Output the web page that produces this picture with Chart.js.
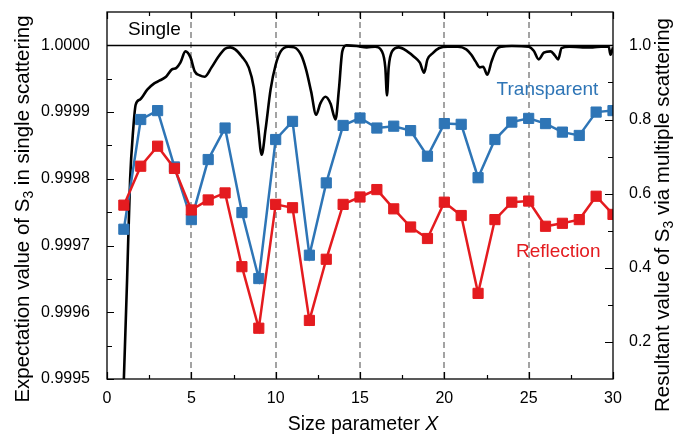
<!DOCTYPE html>
<html>
<head>
<meta charset="utf-8">
<script src="https://cdn.jsdelivr.net/npm/chart.js@4.4.1/dist/chart.umd.min.js"></script>
<style>
  html, body { margin: 0; padding: 0; background: #fff; }
</style>
</head>
<body>
<canvas id="Canvas" width="673" height="437"></canvas>
<script>
// size parameter for the multiple-scattering runs
const sizeParam = [1, 2, 3, 4, 5, 6, 7, 8, 9, 10, 11, 12, 13, 14, 15,
  16, 17, 18, 19, 20, 21, 22, 23, 24, 25, 26, 27, 28, 29, 30];

// resultant S3 (right axis)
const transparent = [0.504, 0.800, 0.824, 0.672, 0.530, 0.692, 0.777, 0.549, 0.371, 0.746,
  0.795, 0.434, 0.629, 0.784, 0.804, 0.777, 0.782, 0.770, 0.701, 0.789,
  0.787, 0.643, 0.746, 0.793, 0.803, 0.789, 0.766, 0.757, 0.820, 0.824];
const reflection = [0.569, 0.674, 0.728, 0.668, 0.556, 0.583, 0.602, 0.403, 0.237, 0.571,
  0.562, 0.258, 0.423, 0.571, 0.591, 0.611, 0.559, 0.510, 0.479, 0.577,
  0.541, 0.331, 0.530, 0.577, 0.580, 0.512, 0.520, 0.530, 0.593, 0.544];

// expectation value of S3, single scattering (left axis)
const singleX = [1.00, 1.19, 1.37, 1.55, 1.70, 1.96, 2.4, 2.8, 3.1, 3.5,
  3.85, 4.1, 4.35, 4.65, 4.95, 5.2, 5.5, 5.8, 6.2, 6.6,
  7.0, 7.3, 7.6, 8.0, 8.4, 8.7, 8.95, 9.17, 9.4, 9.7,
  10.0, 10.3, 10.75, 11.1, 11.5, 11.8, 12.1, 12.4, 12.65, 12.95,
  13.25, 13.55, 13.75, 13.95, 14.2, 14.8, 15.4, 15.9, 16.3, 16.5,
  16.6, 16.7, 16.9, 17.3, 17.8, 18.2, 18.55, 18.8, 19.0, 19.3,
  19.7, 20.2, 20.8, 21.3, 21.6, 21.85, 22.1, 22.3, 22.55, 22.8,
  23.1, 23.4, 24.0, 25.0, 25.3, 25.6, 25.9, 26.3, 26.55, 26.75,
  26.95, 27.4, 28.2, 28.8, 29.3, 29.75, 29.85, 30.0];
const singleY = [0.99950, 0.999648, 0.999799, 0.999873, 0.999911, 0.999919, 0.999934, 0.999943, 0.999947, 0.999953,
  0.999964, 0.999966, 0.999974, 0.999991, 0.999982, 0.999961, 0.999955, 0.999953, 0.999967, 0.999983,
  0.999995, 0.999997, 0.999994, 0.999983, 0.999967, 0.999937, 0.999881, 0.999836, 0.999874, 0.999934,
  0.999971, 0.999991, 0.999998, 0.999997, 0.999986, 0.999964, 0.999931, 0.999896, 0.999913, 0.999923,
  0.999913, 0.999889, 0.999934, 0.999991, 1.000000, 0.999999, 0.999997, 0.999998, 0.999991, 0.999967,
  0.999925, 0.999967, 0.999991, 0.999997, 0.999991, 0.999983, 0.999974, 0.999959, 0.999979, 0.999988,
  0.999996, 0.999998, 0.999998, 0.999994, 0.999986, 0.999976, 0.999967, 0.999968, 0.999956, 0.999976,
  0.999994, 0.999998, 0.999999, 0.999998, 0.999992, 0.999979, 0.999989, 0.999991, 0.999985, 0.999979,
  0.999996, 0.999998, 0.999997, 0.999997, 0.999998, 0.999998, 0.999986, 0.999997];

const xTicks = [0, 5, 10, 15, 20, 25, 30];
const leftTicks = [0.9995, 0.9996, 0.9997, 0.9998, 0.9999, 1.0000];
const rightTicks = [0.2, 0.4, 0.6, 0.8, 1.0];
const guideX = [5, 10, 15, 20, 25];

const BLUE = "#2e75b6";
const RED = "#e41b1f";
const FONT = "'Liberation Sans', Arial, sans-serif";

Chart.defaults.font.family = FONT;
Chart.defaults.color = "#000";

function pairs(xs, ys) {
  return xs.map((x, i) => ({ x: x, y: ys[i] }));
}

// fixed box sizes so the plot frame lands where it should
function fixBox(size) {
  return s => {
    if (s.isHorizontal()) s.height = size; else s.width = size;
    s.paddingTop = 0; s.paddingBottom = 0;
    s.paddingLeft = 0; s.paddingRight = 0;
  };
}

// text with a subscript part, optionally rotated
function drawRichText(ctx, parts, cx, cy, size, rot) {
  ctx.save();
  ctx.translate(cx, cy);
  ctx.rotate(rot);
  ctx.textBaseline = "middle";
  ctx.textAlign = "left";
  let total = 0;
  parts.forEach(p => {
    ctx.font = (p.italic ? "italic " : "") + (p.sub ? size * 0.68 : size) + "px " + FONT;
    p.w = ctx.measureText(p.t).width;
    total += p.w;
  });
  let x = -total / 2;
  parts.forEach(p => {
    ctx.font = (p.italic ? "italic " : "") + (p.sub ? size * 0.68 : size) + "px " + FONT;
    ctx.fillText(p.t, x, p.sub ? size * 0.32 : 0);
    x += p.w;
  });
  ctx.restore();
}

const decor = {
  id: "decor",
  beforeDatasetsDraw(chart) {
    const { ctx, chartArea: a, scales } = chart;
    ctx.save();
    // dashed guides at every 5
    ctx.strokeStyle = "#858585";
    ctx.lineWidth = 1.5;
    ctx.setLineDash([6, 4]);
    guideX.forEach(v => {
      const px = Math.round(scales.x.getPixelForValue(v));
      ctx.beginPath();
      ctx.moveTo(px, a.top);
      ctx.lineTo(px, a.bottom);
      ctx.stroke();
    });
    ctx.setLineDash([]);
    // reference line at 1.0000
    const py = Math.round(scales.y.getPixelForValue(1.0)) + 0.5;
    ctx.strokeStyle = "#000";
    ctx.lineWidth = 1.3;
    ctx.beginPath();
    ctx.moveTo(a.left, py);
    ctx.lineTo(a.right, py);
    ctx.stroke();
    ctx.restore();
  },
  afterDraw(chart) {
    const { ctx, chartArea: a, scales } = chart;
    ctx.save();
    ctx.strokeStyle = "#000";
    ctx.lineWidth = 1.3;
    ctx.strokeRect(a.left, a.top, a.right - a.left, a.bottom - a.top);

    // inward ticks
    ctx.lineWidth = 1.2;
    ctx.beginPath();
    for (let v = 0; v <= 30; v += 2.5) {
      const px = Math.round(scales.x.getPixelForValue(v)) + 0.5;
      const len = v % 5 === 0 ? 7 : 4;
      ctx.moveTo(px, a.bottom); ctx.lineTo(px, a.bottom - len);
      ctx.moveTo(px, a.top); ctx.lineTo(px, a.top + len);
    }
    for (let k = 0; k <= 10; k++) {
      const v = 0.9995 + k * 0.00005;
      const py = Math.round(scales.y.getPixelForValue(v)) + 0.5;
      const len = k % 2 === 0 ? 7 : 5;
      ctx.moveTo(a.left, py); ctx.lineTo(a.left + len, py);
    }
    for (let k = 2; k <= 10; k++) {
      const py = Math.round(scales.y1.getPixelForValue(k / 10)) + 0.5;
      const len = k % 2 === 0 ? 8 : 5;
      ctx.moveTo(a.right, py); ctx.lineTo(a.right - len, py);
    }
    ctx.stroke();

    // axis titles
    ctx.fillStyle = "#000";
    drawRichText(ctx, [{ t: "Size parameter " }, { t: "X", italic: true }],
      (a.left + a.right) / 2 + 3, 425, 19.5, 0);
    drawRichText(ctx, [{ t: "Expectation value of S" }, { t: "3", sub: true }, { t: " in single scattering" }],
      23, 209, 20.5, -Math.PI / 2);
    drawRichText(ctx, [{ t: "Resultant value of S" }, { t: "3", sub: true }, { t: " via multiple scattering" }],
      663, 215, 20.5, -Math.PI / 2);

    // series labels
    ctx.textAlign = "left";
    ctx.textBaseline = "middle";
    ctx.font = "19px " + FONT;
    ctx.fillStyle = "#000";
    ctx.fillText("Single", scales.x.getPixelForValue(1.25), scales.y.getPixelForValue(1.000024));
    ctx.fillStyle = BLUE;
    ctx.fillText("Transparent", scales.x.getPixelForValue(23.1), scales.y1.getPixelForValue(0.881));
    ctx.fillStyle = RED;
    ctx.fillText("Reflection", scales.x.getPixelForValue(24.25), scales.y1.getPixelForValue(0.442));
    ctx.restore();
  }
};

const chart = new Chart(document.getElementById("Canvas").getContext("2d"), {
  type: "line",
  data: {
    datasets: [
      {
        label: "Reflection",
        data: pairs(sizeParam, reflection),
        yAxisID: "y1",
        borderColor: RED,
        backgroundColor: RED,
        borderWidth: 2.5,
        pointStyle: "rect",
        pointRadius: 7.2,
        pointBorderWidth: 1,
        pointBorderColor: RED,
        tension: 0
      },
      {
        label: "Transparent",
        data: pairs(sizeParam, transparent),
        yAxisID: "y1",
        borderColor: BLUE,
        backgroundColor: BLUE,
        borderWidth: 2.5,
        pointStyle: "rect",
        pointRadius: 7.2,
        pointBorderWidth: 1,
        pointBorderColor: BLUE,
        tension: 0
      },
      {
        label: "Single",
        data: pairs(singleX, singleY),
        yAxisID: "y",
        borderColor: "#000",
        borderWidth: 2.6,
        pointRadius: 0,
        cubicInterpolationMode: "monotone"
      }
    ]
  },
  options: {
    responsive: false,
    animation: false,
    layout: { padding: { top: 12, left: 0, right: 0, bottom: 0 } },
    plugins: { legend: { display: false }, tooltip: { enabled: false } },
    scales: {
      x: {
        type: "linear",
        min: 0,
        max: 30,
        afterBuildTicks: s => { s.ticks = xTicks.map(v => ({ value: v })); },
        afterFit: fixBox(58),
        grid: { display: false },
        border: { display: false },
        ticks: { padding: 2, maxRotation: 0, font: { size: 16 } }
      },
      y: {
        position: "left",
        min: 0.9995,
        max: 1.00005,
        afterBuildTicks: s => { s.ticks = leftTicks.map(v => ({ value: v })); },
        afterFit: fixBox(107),
        grid: { display: false },
        border: { display: false },
        ticks: { padding: 9, font: { size: 16 }, callback: v => v.toFixed(4) }
      },
      y1: {
        position: "right",
        min: 0.1,
        max: 1.09,
        afterBuildTicks: s => { s.ticks = rightTicks.map(v => ({ value: v })); },
        afterFit: fixBox(60),
        grid: { display: false },
        border: { display: false },
        ticks: { padding: 8, font: { size: 16 }, callback: v => v.toFixed(1) }
      }
    }
  },
  plugins: [decor]
});
</script>
</body>
</html>
